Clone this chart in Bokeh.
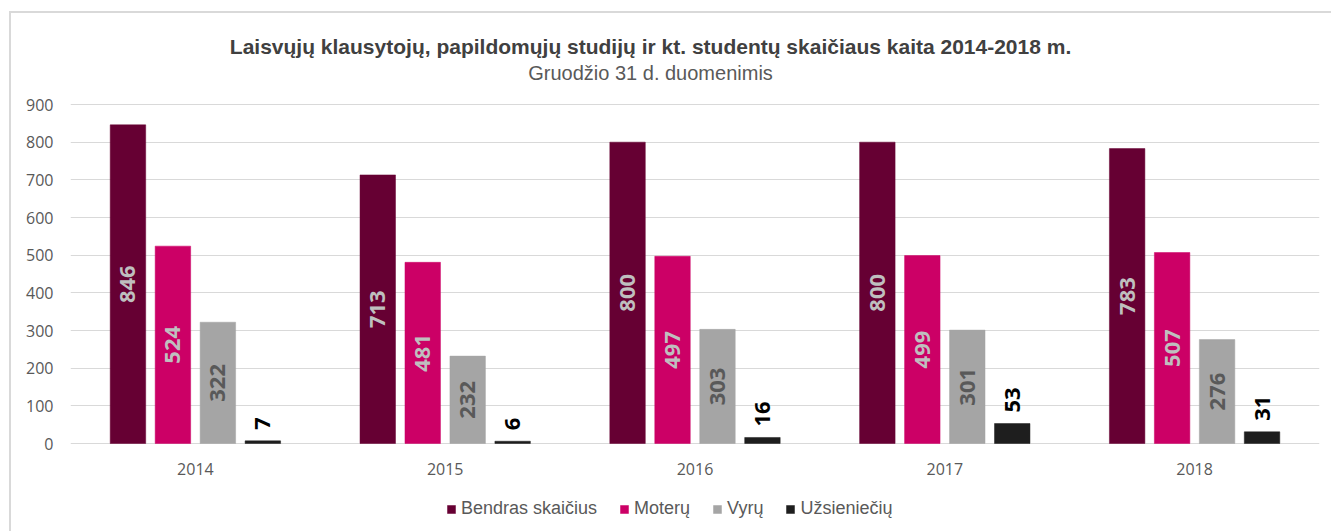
import math
from bokeh.plotting import figure
from bokeh.models import (ColumnDataSource, FactorRange, Range1d, FixedTicker,
                          Legend, LegendItem, Label)
from bokeh.transform import dodge
from bokeh.core.properties import value
from bokeh.embed import file_html
from bokeh.resources import INLINE

# ---- data ----
years = ["2014", "2015", "2016", "2017", "2018"]
bendras = [846, 713, 800, 800, 783]
moteru = [524, 481, 497, 499, 507]
vyru = [322, 232, 303, 301, 276]
uzsienieciu = [7, 6, 16, 53, 31]
series_names = ["Bendras skaičius", "Moterų", "Vyrų", "Užsieniečių"]
series_values = [bendras, moteru, vyru, uzsienieciu]
y_ticks = [0, 100, 200, 300, 400, 500, 600, 700, 800, 900]
colors = ["#660033", "#CC0066", "#A5A5A5", "#1E1E1E"]
label_colors = ["#BFBFBF", "#BFBFBF", "#595959", "#000000"]
title_text = "Laisvųjų klausytojų, papildomųjų studijų ir kt. studentų skaičiaus kaita 2014-2018 m."
subtitle_text = "Gruodžio 31 d. duomenimis"

offsets = [-0.27, -0.09, 0.09, 0.27]
bar_w = 0.142

# value axis: 0..900 spans 339 px; headroom above holds the titles,
# room below 0 holds the year labels and the legend
px_per_unit = 339 / 900
y_top = 900 + 84 / px_per_unit
y_bottom = -86 / px_per_unit

p = figure(x_range=FactorRange(*years), y_range=Range1d(y_bottom, y_top),
           frame_width=1249, frame_height=509, output_backend="svg", toolbar_location=None,
           min_border_left=59, min_border_right=12, min_border_top=7, min_border_bottom=2)
p.styles = {"margin-left": "9px", "margin-top": "11px",
            "border-top": "2px solid #D9D9D9", "border-left": "2px solid #D9D9D9"}
p.outline_line_color = None
p.background_fill_color = "white"
p.border_fill_color = "white"

p.yaxis.ticker = FixedTicker(ticks=y_ticks)
p.ygrid.grid_line_color = "#D9D9D9"
p.xgrid.grid_line_color = None
p.yaxis.major_tick_line_color = None
p.yaxis.minor_tick_line_color = None
p.yaxis.major_label_text_font = "Open Sans"
p.yaxis.major_label_text_font_size = "16px"
p.yaxis.major_label_text_color = "#595959"
p.yaxis.axis_line_color = None
p.yaxis.major_label_standoff = 11
p.xaxis.visible = False

# category labels under the baseline
cat_src = ColumnDataSource(dict(year=years, base=[0] * len(years)))
p.text(x="year", y="base", text="year", source=cat_src, y_offset=25,
       text_align="center", text_baseline="middle", text_font=value("Open Sans"),
       text_font_size="16px", text_color="#595959")

renderers = []
for i, (name, vals) in enumerate(zip(series_names, series_values)):
    src = ColumnDataSource(dict(
        year=years, val=vals, half=[v / 2 for v in vals],
        txt=[str(v) for v in vals]))
    r = p.vbar(x=dodge("year", offsets[i], range=p.x_range), top="val", width=bar_w,
               source=src, fill_color=colors[i], line_color=colors[i], line_width=0.5)
    renderers.append(r)
    if i < 3:
        p.text(x=dodge("year", offsets[i], range=p.x_range), y="half", text="txt",
               source=src, angle=math.pi / 2, text_align="center", text_baseline="middle",
               text_font=value("Open Sans"), text_font_style="bold", text_font_size="22px",
               text_color=label_colors[i])
    else:
        p.text(x=dodge("year", offsets[i], range=p.x_range), y="val", text="txt",
               source=src, angle=math.pi / 2, text_align="left", text_baseline="middle",
               y_offset=-11,
               text_font=value("Open Sans"), text_font_style="bold", text_font_size="22px",
               text_color=label_colors[i])

legend = Legend(items=[LegendItem(label=n, renderers=[r]) for n, r in zip(series_names, renderers)],
                orientation="horizontal", location=(376, 10),
                glyph_width=10, glyph_height=10, label_standoff=5, spacing=22,
                label_text_font="Liberation Sans", label_text_font_size="18px",
                label_text_color="#595959", padding=0, margin=0,
                border_line_color=None, background_fill_alpha=0)
p.add_layout(legend, "center")

# titles (x in category units of the 5-year axis, y in value units above the plot)
p.add_layout(Label(x=2.322, y=900 + 58 / px_per_unit, text=title_text,
                   text_align="center", text_baseline="middle", text_font="Liberation Sans",
                   text_font_style="bold", text_font_size="21px", text_color="#404040"))
p.add_layout(Label(x=2.322, y=900 + 32 / px_per_unit, text=subtitle_text,
                   text_align="center", text_baseline="middle", text_font="Liberation Sans",
                   text_font_size="20px", text_color="#595959"))

open("out.html", "w").write(file_html(p, INLINE))
